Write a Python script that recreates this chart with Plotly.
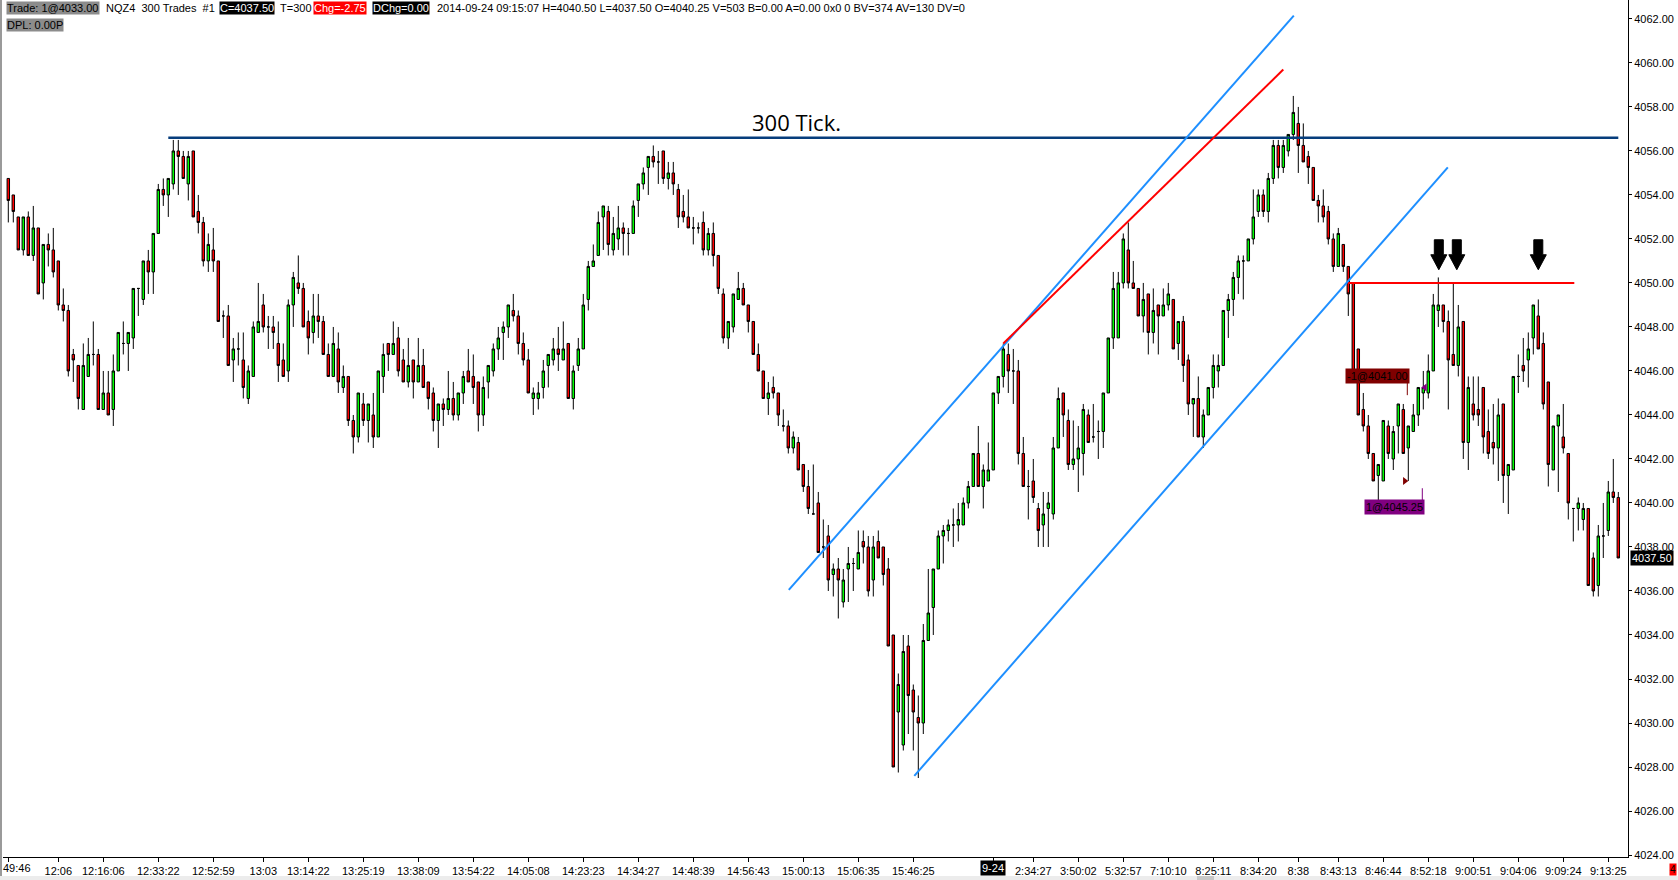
import plotly.graph_objects as go

# ---------------- data ----------------
opens = [4054.75,4054.0,4053.0,4051.5,4053.0,4051.25,4052.5,4050.0,4051.75,4051.5,
4051.0,4049.0,4048.75,4046.75,4046.25,4044.25,4045.75,4046.75,4046.75,4044.25,
4045.0,4044.25,4046.0,4047.25,4047.25,4047.5,4049.75,4049.25,4051.0,4050.5,
4052.25,4054.25,4054.0,4054.5,4056.0,4055.75,4054.5,4056.0,4053.25,4052.75,
4051.0,4051.5,4051.0,4048.5,4048.5,4046.5,4047.0,4046.5,4044.75,4045.75,
4047.75,4049.0,4048.0,4048.0,4047.25,4046.5,4046.0,4049.0,4050.0,4049.75,
4048.25,4047.75,4048.5,4048.25,4046.75,4045.75,4047.0,4045.25,4045.75,4043.75,
4043.0,4044.5,4043.75,4044.0,4043.0,4045.75,4047.25,4046.75,4047.5,4046.5,
4045.5,4046.5,4045.5,4046.25,4045.5,4045.0,4043.75,4044.5,4044.25,4044.75,
4044.0,4045.0,4046.0,4045.75,4045.5,4044.0,4045.5,4046.0,4047.0,4047.75,
4048.0,4048.75,4048.5,4047.25,4046.5,4044.75,4044.75,4045.25,4046.25,4046.5,
4047.0,4046.5,4047.25,4044.75,4046.25,4047.0,4049.25,4050.75,4051.25,4053.0,
4053.25,4051.5,4052.0,4052.5,4052.25,4052.25,4053.75,4054.5,4055.25,4055.75,
4055.5,4056.0,4054.75,4055.0,4054.25,4053.25,4053.0,4052.5,4052.5,4052.75,
4051.5,4052.25,4051.25,4049.5,4047.5,4048.0,4049.25,4049.75,4049.0,4048.25,
4046.75,4046.0,4044.75,4045.25,4045.0,4043.5,4043.5,4042.5,4042.75,4041.75,
4040.75,4039.5,4040.0,4038.0,4038.5,4036.75,4037.0,4035.5,4037.0,4037.25,
4037.0,4038.25,4038.0,4036.5,4038.25,4038.0,4037.0,4034.0,4030.5,4029.0,
4033.5,4031.5,4030.25,4030.0,4033.75,4035.25,4037.0,4038.5,4038.75,4039.0,
4039.0,4039.0,4040.0,4040.75,4042.25,4040.75,4041.0,4041.5,4045.0,4045.75,
4046.75,4046.0,4046.0,4042.25,4040.75,4041.0,4039.75,4039.0,4039.75,4039.5,
4042.5,4045.0,4043.75,4041.75,4042.0,4042.25,4044.0,4043.0,4043.25,4043.25,
4045.0,4047.5,4047.5,4050.0,4051.5,4050.0,4049.75,4048.5,4049.5,4047.75,
4049.0,4048.5,4049.0,4049.25,4047.25,4048.25,4046.5,4044.5,4044.75,4043.0,
4044.0,4045.25,4046.0,4046.25,4048.75,4049.25,4050.25,4051.0,4051.0,4052.0,
4053.25,4054.0,4053.25,4054.75,4056.25,4055.25,4056.0,4056.75,4057.25,4056.25,
4055.75,4055.25,4053.75,4053.5,4053.25,4052.0,4050.75,4051.75,4050.75,4050.0,
4047.0,4044.25,4043.5,4042.25,4041.25,4041.0,4043.5,4042.0,4043.5,4044.25,
4042.5,4043.25,4044.0,4045.0,4045.0,4046.0,4048.75,4049.0,4048.25,4046.75,
4046.25,4048.25,4042.75,4044.5,4044.25,4045.25,4043.25,4042.75,4042.5,4044.5,
4041.25,4041.5,4045.75,4046.25,4046.5,4047.5,4048.5,4047.25,4045.5,4041.5,
4043.5,4043.0,4042.25,4039.75,4039.75,4039.25,4039.75,4037.5,4036.25,4038.5,
4038.75,4040.5,4040.25]
highs = [4054.75,4054.0,4053.0,4053.0,4053.25,4053.5,4052.5,4051.75,4052.25,4052.5,
4051.0,4049.75,4049.0,4047.0,4046.25,4047.25,4047.5,4048.25,4047.0,4046.0,
4046.0,4046.75,4047.75,4048.25,4047.75,4049.75,4049.75,4051.0,4051.5,4052.25,
4054.5,4054.75,4054.75,4056.5,4056.5,4056.0,4056.0,4056.0,4054.0,4053.0,
4052.25,4052.5,4051.0,4048.75,4049.0,4047.5,4047.75,4047.75,4046.25,4048.25,
4050.0,4049.5,4048.5,4048.5,4048.25,4047.25,4049.25,4050.5,4051.25,4050.0,
4048.75,4049.5,4049.5,4048.5,4047.25,4048.0,4047.75,4046.25,4045.75,4044.0,
4045.0,4045.0,4044.5,4045.0,4046.0,4047.25,4047.25,4048.25,4048.0,4047.0,
4047.5,4046.5,4047.5,4047.0,4045.5,4045.25,4044.5,4044.75,4046.0,4045.5,
4045.0,4046.0,4047.0,4046.75,4045.5,4045.75,4046.25,4047.25,4048.0,4048.25,
4049.0,4049.5,4048.75,4047.75,4047.0,4045.25,4045.5,4046.5,4046.75,4047.5,
4048.0,4048.25,4047.25,4046.25,4047.5,4049.5,4051.0,4051.75,4053.25,4053.5,
4053.5,4053.0,4053.5,4052.75,4052.5,4053.75,4054.5,4055.25,4055.75,4056.25,
4056.0,4056.0,4055.5,4055.5,4054.5,4054.0,4054.25,4053.0,4052.75,4053.25,
4052.5,4052.75,4051.25,4049.75,4048.25,4049.5,4050.5,4050.0,4049.0,4048.25,
4047.25,4046.0,4045.5,4045.75,4045.0,4044.25,4043.75,4043.25,4043.0,4041.75,
4041.5,4041.75,4040.5,4039.25,4039.0,4037.25,4037.5,4037.0,4038.0,4037.5,
4038.75,4038.75,4038.5,4038.5,4038.75,4038.0,4037.5,4034.0,4032.25,4034.0,
4034.0,4031.75,4031.25,4034.5,4037.0,4037.0,4038.75,4039.0,4039.25,4039.75,
4040.0,4040.25,4041.0,4042.25,4043.5,4041.75,4042.75,4045.0,4045.75,4047.25,
4047.25,4047.0,4046.5,4043.0,4041.5,4042.0,4040.0,4040.5,4040.5,4043.0,
4045.25,4045.0,4044.25,4043.75,4043.5,4044.5,4044.25,4044.5,4043.75,4045.0,
4047.5,4050.5,4050.5,4052.25,4052.75,4051.0,4049.75,4050.0,4049.5,4049.75,
4049.0,4049.75,4050.0,4049.25,4048.25,4048.5,4046.75,4044.75,4045.75,4044.25,
4045.25,4046.75,4046.75,4048.75,4049.5,4050.5,4051.25,4051.25,4052.0,4054.25,
4054.25,4054.25,4055.0,4056.5,4056.5,4056.5,4056.75,4058.5,4058.0,4057.25,
4056.0,4055.25,4054.0,4054.25,4053.5,4052.25,4052.5,4051.75,4050.75,4050.0,
4047.0,4045.0,4044.0,4042.25,4041.75,4043.75,4043.75,4043.5,4044.5,4044.5,
4043.5,4044.5,4045.25,4046.0,4046.75,4049.5,4050.25,4049.0,4048.75,4050.0,
4049.0,4048.25,4045.75,4045.75,4045.75,4045.25,4044.25,4044.5,4044.75,4044.5,
4041.75,4045.75,4046.75,4047.5,4047.75,4049.0,4049.25,4047.75,4045.5,4043.5,
4044.0,4044.5,4042.25,4039.75,4040.25,4040.0,4039.75,4037.75,4039.0,4040.0,
4041.0,4042.0,4040.5]
lows = [4052.75,4052.75,4051.5,4051.25,4051.25,4051.0,4049.5,4049.25,4050.75,4050.25,
4048.75,4048.25,4045.75,4045.5,4044.25,4044.25,4045.75,4046.25,4044.25,4044.25,
4044.0,4043.5,4046.0,4046.75,4046.0,4047.0,4048.5,4049.0,4049.5,4049.5,
4052.25,4053.5,4053.0,4054.25,4054.0,4054.75,4053.75,4053.0,4052.25,4050.75,
4050.5,4050.5,4048.25,4047.5,4046.25,4045.5,4046.25,4044.75,4044.5,4045.75,
4047.75,4047.75,4047.0,4047.0,4045.5,4045.75,4045.5,4048.0,4049.5,4048.0,
4046.75,4047.25,4047.5,4046.75,4045.75,4045.75,4045.0,4045.0,4043.5,4042.25,
4042.75,4043.5,4042.75,4042.5,4043.0,4045.0,4046.0,4046.75,4045.75,4045.5,
4045.25,4044.75,4045.5,4045.25,4044.25,4043.25,4042.5,4043.5,4044.0,4043.75,
4043.75,4044.5,4045.5,4044.5,4043.25,4043.5,4044.75,4045.75,4046.5,4046.5,
4047.5,4048.25,4046.75,4046.25,4045.0,4044.0,4044.25,4044.75,4045.25,4046.25,
4046.0,4046.5,4044.75,4044.25,4046.0,4047.0,4048.75,4050.75,4051.25,4051.5,
4051.25,4051.25,4051.5,4051.25,4051.25,4052.25,4053.0,4054.25,4054.0,4055.25,
4054.5,4054.5,4054.25,4054.0,4052.5,4052.75,4052.5,4051.75,4052.25,4051.25,
4051.25,4050.75,4049.5,4047.25,4047.0,4047.75,4049.25,4049.0,4047.75,4046.75,
4046.0,4044.75,4044.0,4044.75,4043.5,4043.25,4042.25,4042.25,4041.5,4040.5,
4039.5,4039.5,4037.75,4037.5,4036.0,4035.75,4034.75,4035.25,4035.5,4036.0,
4037.0,4037.25,4035.75,4035.75,4037.5,4036.25,4033.5,4028.0,4027.75,4028.75,
4029.5,4028.75,4027.5,4029.5,4033.75,4034.0,4037.0,4037.25,4038.25,4038.0,
4038.25,4039.0,4039.75,4040.75,4040.75,4039.75,4041.0,4041.5,4044.5,4045.25,
4045.0,4044.5,4041.75,4040.75,4039.25,4040.0,4038.0,4038.0,4038.0,4039.25,
4042.5,4043.0,4041.5,4041.5,4040.5,4041.25,4042.75,4042.75,4042.0,4042.5,
4045.0,4047.0,4047.5,4049.75,4049.75,4049.75,4048.5,4047.75,4046.75,4047.25,
4046.75,4048.5,4048.75,4047.0,4046.5,4045.5,4044.0,4043.0,4043.0,4042.5,
4044.0,4044.75,4045.25,4046.25,4047.5,4048.5,4049.5,4049.25,4051.0,4051.75,
4053.0,4053.0,4052.75,4054.5,4054.75,4055.0,4055.75,4056.5,4055.0,4055.5,
4054.5,4053.75,4052.75,4052.75,4051.75,4050.5,4050.75,4050.5,4048.5,4046.0,
4044.0,4043.25,4042.0,4041.0,4040.0,4041.0,4042.0,4041.5,4042.25,4042.25,
4041.0,4043.25,4043.5,4044.25,4044.75,4046.0,4048.0,4047.75,4044.25,4046.25,
4045.75,4042.0,4041.5,4043.75,4043.5,4042.25,4042.0,4041.75,4041.0,4040.0,
4039.5,4041.5,4045.0,4045.5,4045.25,4046.75,4047.0,4044.25,4040.75,4041.5,
4040.5,4042.25,4039.25,4038.25,4038.75,4038.75,4036.25,4035.75,4035.75,4037.5,
4038.5,4040.0,4037.5]
closes = [4053.75,4053.25,4051.5,4053.0,4051.25,4052.5,4049.5,4051.75,4051.5,4050.5,
4049.0,4048.75,4046.0,4046.5,4044.75,4046.25,4046.75,4046.75,4044.25,4045.0,
4044.0,4046.0,4047.75,4047.25,4047.75,4049.75,4049.75,4051.0,4050.5,4052.25,
4054.25,4054.0,4054.75,4056.0,4055.75,4054.75,4055.75,4053.0,4052.75,4051.0,
4051.75,4051.0,4048.25,4048.5,4046.25,4047.0,4047.0,4045.25,4046.0,4048.0,
4048.25,4048.0,4048.0,4047.75,4046.25,4045.75,4049.0,4050.25,4049.75,4048.0,
4047.5,4048.5,4048.25,4046.75,4045.75,4047.25,4045.5,4045.75,4043.75,4043.0,
4045.0,4043.75,4044.5,4043.0,4046.0,4046.75,4046.75,4047.25,4046.0,4045.5,
4046.25,4045.5,4046.25,4045.25,4044.75,4043.75,4044.5,4044.25,4044.75,4044.0,
4045.0,4045.75,4045.5,4045.25,4044.0,4045.25,4046.25,4047.0,4047.5,4048.0,
4049.0,4048.5,4047.25,4046.5,4045.0,4045.0,4045.0,4046.0,4046.75,4047.0,
4046.75,4047.0,4044.75,4046.0,4047.0,4049.0,4050.75,4051.0,4052.75,4053.5,
4051.75,4052.25,4052.5,4052.25,4052.25,4053.5,4054.5,4055.0,4055.75,4055.5,
4055.5,4054.75,4055.0,4054.5,4053.0,4053.0,4052.5,4052.5,4052.5,4051.5,
4052.25,4051.25,4049.75,4047.5,4048.25,4049.5,4049.75,4049.0,4048.25,4046.75,
4046.0,4044.75,4045.0,4045.0,4044.0,4043.5,4042.5,4043.0,4041.5,4040.75,
4039.75,4039.5,4037.75,4038.0,4036.5,4037.0,4036.5,4036.5,4037.25,4037.25,
4037.75,4038.0,4036.0,4038.0,4037.5,4036.75,4033.5,4028.0,4031.75,4033.25,
4031.25,4030.5,4030.0,4033.75,4035.0,4037.0,4038.5,4038.75,4039.0,4039.0,
4039.25,4040.0,4040.75,4042.25,4040.75,4041.5,4041.5,4045.0,4045.75,4047.0,
4046.0,4046.0,4042.25,4040.75,4040.75,4040.25,4038.75,4039.5,4040.0,4042.5,
4044.75,4044.0,4041.75,4042.0,4042.5,4044.25,4042.75,4043.0,4043.25,4045.0,
4047.5,4049.75,4050.0,4052.0,4050.0,4049.75,4048.5,4049.25,4047.75,4048.75,
4048.5,4049.0,4049.5,4047.0,4048.25,4046.25,4044.5,4044.75,4043.0,4044.0,
4045.25,4046.25,4046.25,4048.75,4049.25,4050.25,4051.0,4051.0,4052.0,4053.0,
4054.0,4053.25,4054.75,4056.25,4055.25,4056.25,4056.75,4057.75,4056.25,4055.5,
4055.25,4053.75,4053.5,4053.0,4052.0,4050.75,4052.25,4050.75,4049.5,4046.0,
4044.0,4043.5,4042.25,4041.0,4041.75,4043.75,4042.25,4043.25,4044.5,4042.25,
4043.5,4044.0,4045.25,4045.25,4046.0,4049.0,4049.0,4048.25,4046.5,4046.25,
4048.0,4042.75,4045.25,4044.0,4044.0,4043.0,4042.25,4042.5,4044.0,4041.25,
4041.75,4045.75,4045.75,4046.0,4047.0,4049.0,4047.0,4044.5,4041.75,4043.5,
4044.0,4042.5,4040.0,4039.75,4040.0,4039.75,4036.25,4036.0,4038.5,4038.5,
4040.5,4040.25,4037.5]
bar_index = list(range(1, len(opens) + 1))

# x-axis labels (bar index where each label sits)
time_tick_bars = [1, 11, 20, 31, 42, 52, 61, 72, 83, 94, 105, 116, 127, 138, 149, 160,
                  171, 182, 198, 206, 215, 224, 233, 242, 251, 259, 267, 276, 285, 294,
                  303, 312, 321]
time_tick_labels = ["49:46", "12:06", "12:16:06", "12:33:22", "12:52:59", "13:03",
                    "13:14:22", "13:25:19", "13:38:09", "13:54:22", "14:05:08", "14:23:23",
                    "14:34:27", "14:48:39", "14:56:43", "15:00:13", "15:06:35", "15:46:25",
                    "9-24", "2:34:27", "3:50:02", "5:32:57", "7:10:10", "8:25:11", "8:34:20",
                    "8:38", "8:43:13", "8:46:44", "8:52:18", "9:00:51", "9:04:06",
                    "9:09:24", "9:13:25"]
date_label = "9-24"
edge_label = time_tick_labels[0]   # shown cut at the left window edge in the reference
price_ticks = [4024, 4026, 4028, 4030, 4032, 4034, 4036, 4038, 4040, 4042, 4044, 4046,
               4048, 4050, 4052, 4054, 4056, 4058, 4060, 4062]

# drawing objects
tick_level_price = 4056.6
tick_level_bars = [33, 323]
upper_channel_bars = [157.1, 258.1]
upper_channel_prices = [4036.05, 4062.15]
lower_channel_bars = [182.2, 288.9]
lower_channel_prices = [4027.6, 4055.25]
red_trend_bars = [200.0, 256.0]
red_trend_prices = [4047.25, 4059.7]
red_level_price = 4050.0
red_level_bars = [269, 314.2]
arrow_bars = [287.1, 290.7, 307.0]
arrow_tip_price = 4050.6
sell_label = "-1@4041.00"
sell_label_pos = (274.9, 4045.75)
sell_marker = (280.3, 4041.0)
sell_stem = (280.8, [4045.45, 4044.9])
buy_label = "1@4045.25"
buy_label_pos = (278.3, 4039.82)
buy_marker = (284.3, 4045.25)
buy_stem = (283.8, [4040.06, 4040.67])

header_items = [
    ("Trade: 1@4033.00", 5.7, "#8c8c8c", "#000000"),
    ("NQZ4  300 Trades  #1", 105, None, "#000000"),
    ("C=4037.50", 219, "#000000", "#ffffff"),
    ("T=300", 279, None, "#000000"),
    ("Chg=-2.75", 313, "#ff0000", "#ffffff"),
    ("DChg=0.00", 372, "#000000", "#ffffff"),
    ("2014-09-24 09:15:07 H=4040.50 L=4037.50 O=4040.25 V=503 B=0.00 A=0.00 0x0 0 BV=374 AV=130 DV=0",
     436, None, "#000000"),
]
header_line2 = ("DPL: 0.00P", 5.7, "#8c8c8c", "#000000")

# ---------------- layout geometry ----------------
W, H = 1678, 880
ML, MR, MT, MB = 3, 50, 0, 23
PW, PH = W - ML - MR, H - MT - MB
x_range = [-0.06, 324.94]
y_range = [4023.91, 4062.86]
px_per_bar = PW / (x_range[1] - x_range[0])
px_per_pt = PH / (y_range[1] - y_range[0])


def paper_x(px):
    return (px - ML) / PW


def paper_y(py):
    return 1 - (py - MT) / PH


FONT = "Liberation Sans"
LABEL_Y = paper_y(868)

fig = go.Figure()

fig.add_trace(go.Candlestick(
    x=bar_index, open=opens, high=highs, low=lows, close=closes,
    increasing=dict(line=dict(color="#000000", width=1), fillcolor="#00ff00"),
    decreasing=dict(line=dict(color="#000000", width=1), fillcolor="#ff0000"),
    whiskerwidth=0, hoverinfo="skip", showlegend=False,
))

# 300 tick horizontal level
fig.add_trace(go.Scatter(x=tick_level_bars, y=[tick_level_price] * 2, mode="lines",
                         line=dict(color="#063d7c", width=2.5), hoverinfo="skip", showlegend=False))
# channel lines
fig.add_trace(go.Scatter(x=upper_channel_bars, y=upper_channel_prices, mode="lines",
                         line=dict(color="#1e8fff", width=2), hoverinfo="skip", showlegend=False))
fig.add_trace(go.Scatter(x=lower_channel_bars, y=lower_channel_prices, mode="lines",
                         line=dict(color="#1e8fff", width=2), hoverinfo="skip", showlegend=False))
fig.add_trace(go.Scatter(x=red_trend_bars, y=red_trend_prices, mode="lines",
                         line=dict(color="#ff0000", width=2), hoverinfo="skip", showlegend=False))
fig.add_trace(go.Scatter(x=red_level_bars, y=[red_level_price] * 2, mode="lines",
                         line=dict(color="#ff0000", width=2), hoverinfo="skip", showlegend=False))

# down arrows (shape in pixels around the data anchor)
arrow_shape_px = [(0, 0), (8, 15), (4.5, 15), (4.5, 30), (-4.5, 30), (-4.5, 15), (-8, 15), (0, 0)]
for ab in arrow_bars:
    ax_pts = [ab + dx / px_per_bar for dx, dy in arrow_shape_px]
    ay_pts = [arrow_tip_price + dy / px_per_pt for dx, dy in arrow_shape_px]
    fig.add_trace(go.Scatter(x=ax_pts, y=ay_pts, mode="lines", fill="toself",
                             fillcolor="#000000", line=dict(color="#000000", width=1),
                             hoverinfo="skip", showlegend=False))

# execution markers
fig.add_trace(go.Scatter(x=[sell_stem[0]] * 2, y=sell_stem[1], mode="lines",
                         line=dict(color="#800000", width=1), hoverinfo="skip", showlegend=False))
fig.add_trace(go.Scatter(x=[buy_stem[0]] * 2, y=buy_stem[1], mode="lines",
                         line=dict(color="#800080", width=1), hoverinfo="skip", showlegend=False))
fig.add_trace(go.Scatter(x=[sell_marker[0]], y=[sell_marker[1]], mode="markers",
                         marker=dict(symbol="triangle-right", size=7, color="#800000"),
                         hoverinfo="skip", showlegend=False))
fig.add_trace(go.Scatter(x=[buy_marker[0]], y=[buy_marker[1]], mode="markers",
                         marker=dict(symbol="triangle-left", size=7, color="#800080"),
                         hoverinfo="skip", showlegend=False))

annotations = []
annotations.append(dict(x=158.7, y=4057.3, xref="x", yref="y", text="300 Tick.", showarrow=False,
                        font=dict(family="Open Sans", size=22, color="#000000")))
annotations.append(dict(x=sell_label_pos[0], y=sell_label_pos[1], xref="x", yref="y",
                        text=sell_label, showarrow=False, bgcolor="#800000", borderpad=1,
                        font=dict(family=FONT, size=11, color="#000000")))
annotations.append(dict(x=buy_label_pos[0], y=buy_label_pos[1], xref="x", yref="y",
                        text=buy_label, showarrow=False, bgcolor="#800080", borderpad=1,
                        font=dict(family=FONT, size=11, color="#000000")))
# current price box on the price axis
annotations.append(dict(x=1, y=closes[-1], xref="paper", yref="y", xanchor="left", xshift=2,
                        text=f"{closes[-1]:.2f}", showarrow=False, bgcolor="#000000", borderpad=1,
                        font=dict(family=FONT, size=11, color="#ffffff")))
# date marker on the time axis
annotations.append(dict(x=time_tick_bars[time_tick_labels.index(date_label)], y=LABEL_Y,
                        xref="x", yref="paper", yanchor="middle", text=date_label,
                        showarrow=False, bgcolor="#000000", borderpad=1,
                        font=dict(family=FONT, size=11, color="#ffffff")))
# first time label, at the left window edge
annotations.append(dict(x=paper_x(2), y=LABEL_Y, xref="paper", yref="paper",
                        xanchor="left", yanchor="middle", text=edge_label, showarrow=False,
                        borderpad=0, font=dict(family=FONT, size=11, color="#000000")))
# header
for txt, px, bg, fc in header_items:
    annotations.append(dict(x=paper_x(px), y=paper_y(7.5), xref="paper", yref="paper",
                            xanchor="left", yanchor="middle", text=txt, showarrow=False,
                            bgcolor=bg if bg else "rgba(0,0,0,0)", borderpad=0,
                            font=dict(family=FONT, size=11, color=fc)))
txt, px, bg, fc = header_line2
annotations.append(dict(x=paper_x(px), y=paper_y(25), xref="paper", yref="paper",
                        xanchor="left", yanchor="middle", text=txt, showarrow=False,
                        bgcolor=bg, borderpad=0, font=dict(family=FONT, size=11, color=fc)))
# small red box at the lower right corner
annotations.append(dict(x=paper_x(1677), y=paper_y(869), xref="paper", yref="paper",
                        xanchor="right", yanchor="middle", text="4", showarrow=False,
                        bgcolor="#ff0000", borderpad=0,
                        font=dict(family=FONT, size=10, color="#000000")))

shapes = [
    dict(type="rect", xref="paper", yref="paper", x0=paper_x(0), x1=paper_x(2),
         y0=paper_y(880), y1=paper_y(0), fillcolor="#9a9a9a", line=dict(width=0), layer="below"),
    dict(type="rect", xref="paper", yref="paper", x0=paper_x(0), x1=paper_x(1678),
         y0=paper_y(880), y1=paper_y(876), fillcolor="#ececec", line=dict(width=0)),
    dict(type="rect", xref="paper", yref="paper", x0=paper_x(1197), x1=paper_x(1214),
         y0=paper_y(880), y1=paper_y(876), fillcolor="#c8c8c8", line=dict(width=0)),
]

fig.update_layout(
    width=W, height=H,
    margin=dict(l=ML, r=MR, t=MT, b=MB, pad=0, autoexpand=False),
    paper_bgcolor="#ffffff", plot_bgcolor="#ffffff",
    showlegend=False, hovermode=False,
    annotations=annotations, shapes=shapes,
    xaxis=dict(range=x_range, rangeslider=dict(visible=False), showgrid=False, zeroline=False,
               showline=True, linecolor="#000000", linewidth=1, automargin=False,
               tickmode="array", tickvals=time_tick_bars,
               ticktext=["" if t in (date_label, edge_label) else t for t in time_tick_labels],
               ticks="outside", ticklen=4, tickcolor="#000000",
               tickfont=dict(family=FONT, size=11, color="#000000")),
    yaxis=dict(range=y_range, side="right", showgrid=False, zeroline=False,
               showline=True, linecolor="#000000", linewidth=1, automargin=False,
               tickmode="array", tickvals=price_ticks,
               ticktext=[f"{v:.2f}" for v in price_ticks],
               ticks="outside", ticklen=3, tickcolor="#000000",
               tickfont=dict(family=FONT, size=11, color="#000000")),
)

fig.write_html("out.html", config={"displayModeBar": False, "staticPlot": True},
               post_script="document.body.style.margin='0';document.body.style.overflow='hidden';")
